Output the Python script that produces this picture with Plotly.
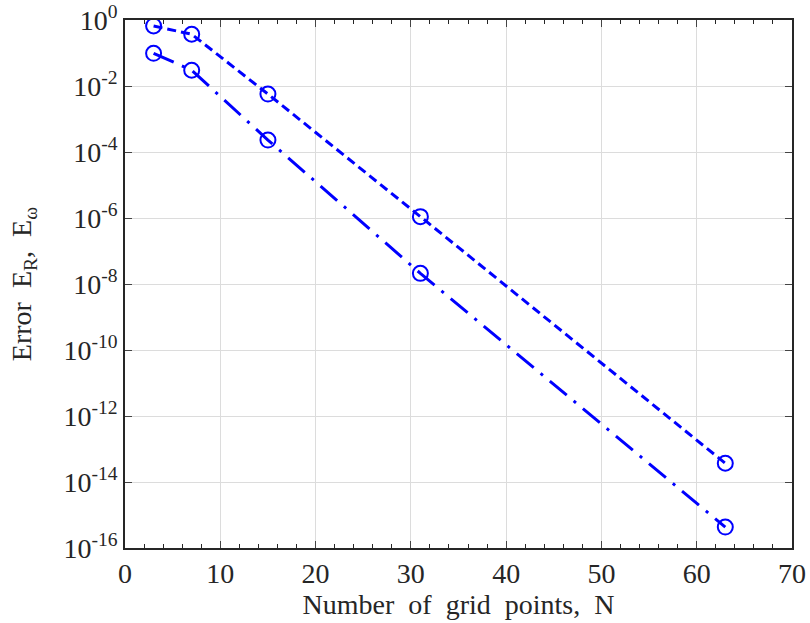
import plotly.graph_objects as go

N = [3, 7, 15, 31, 63]
err_R = [0.66, 0.37, 5.7e-3, 1.1e-6, 3.7e-14]
err_w = [0.098, 0.030, 2.3e-4, 2.1e-8, 4.3e-16]

x_ticks = [0, 10, 20, 30, 40, 50, 60, 70]
y_exps = [0, -2, -4, -6, -8, -10, -12, -14, -16]
y_tickvals = [10.0 ** e for e in y_exps]
y_ticktext = ["10<sup>%d</sup>" % e for e in y_exps]

blue = "#0000ff"
font = "Liberation Serif, Times New Roman, serif"
sp = "\u00a0\u00a0"

fig = go.Figure()
fig.add_trace(go.Scatter(
    x=N, y=err_R, mode="lines+markers",
    line=dict(color=blue, width=3, dash="9px,5px"),
    marker=dict(symbol="circle-open", size=15, color=blue, line=dict(width=2)),
    showlegend=False))
fig.add_trace(go.Scatter(
    x=N, y=err_w, mode="lines+markers",
    line=dict(color=blue, width=3, dash="22px,9px,3px,9px"),
    marker=dict(symbol="circle-open", size=15, color=blue, line=dict(width=2)),
    showlegend=False))

fig.update_layout(
    width=810, height=623,
    margin=dict(l=125, r=18, t=20, b=75),
    plot_bgcolor="white", paper_bgcolor="white",
    font=dict(family=font, size=28, color="#262626"),
    xaxis=dict(
        range=[0, 70], tickvals=x_ticks, ticks="inside", ticklen=7,
        showline=True, linecolor="#262626", linewidth=1.5, mirror="ticks",
        showgrid=True, gridcolor="#dcdcdc", gridwidth=1, zeroline=False,
        automargin=False,
        minor=dict(dtick=2, ticks="inside", ticklen=4, tickcolor="#262626", showgrid=False),
        title=dict(text="Number" + sp + "of" + sp + "grid" + sp + "points," + sp + "N",
                   font=dict(size=28), standoff=2),
        tickfont=dict(size=28),
    ),
    yaxis=dict(
        type="log", range=[-16, 0], tickvals=y_tickvals, ticktext=y_ticktext,
        ticks="inside", ticklen=7,
        showline=True, linecolor="#262626", linewidth=1.5, mirror="ticks",
        showgrid=True, gridcolor="#dcdcdc", gridwidth=1, zeroline=False,
        automargin=False,
        title=dict(text="Error" + sp + "E<sub>R</sub>," + sp + "E<sub>ω</sub>",
                   font=dict(size=28), standoff=24),
        tickfont=dict(size=28),
    ),
)

fig.write_html("out.html")
